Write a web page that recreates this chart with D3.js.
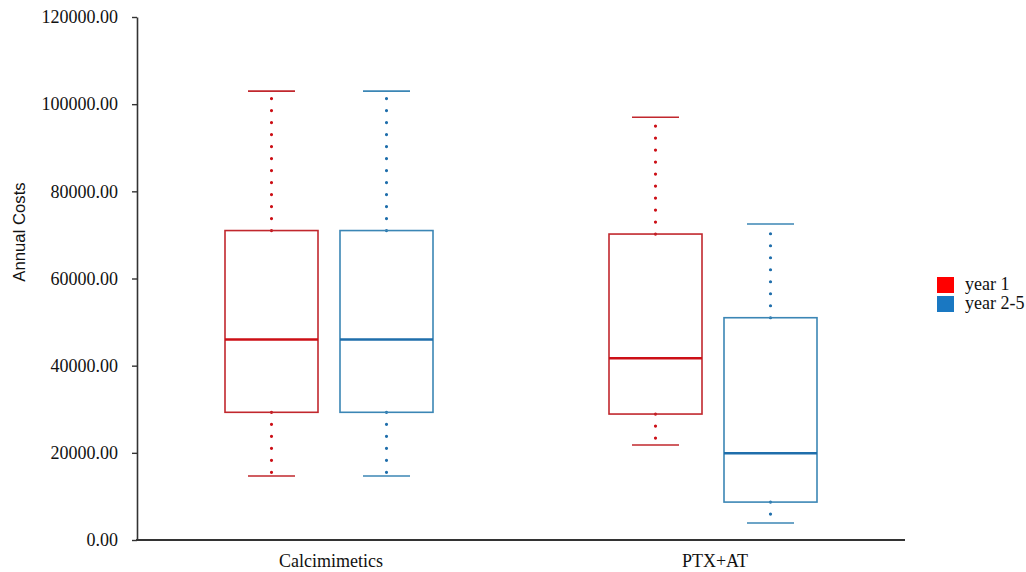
<!DOCTYPE html>
<html>
<head>
<meta charset="utf-8">
<script src="https://d3js.org/d3.v7.min.js"></script>
<style>
  body { margin: 0; background: #fff; }
  svg text { fill: #111; }
</style>
</head>
<body>
<div id="chart"></div>
<script>
// data
var categories = ["Calcimimetics", "PTX+AT"];
var seriesNames = ["year 1", "year 2-5"];
// [whiskerLow, q1, median, q3, whiskerHigh] per category
var year1Stats = [
  [14700, 29300, 46000, 71000, 103000],
  [21800, 28900, 41700, 70200, 97000]
];
var year25Stats = [
  [14700, 29300, 46000, 71000, 103000],
  [3900, 8700, 19900, 51000, 72500]
];
var yTicks = [0, 20000, 40000, 60000, 80000, 100000, 120000];

var boxColors = ["#c1272d", "#3b86b5"];
var medianColors = ["#cc0f16", "#1f6eab"];
var legendColors = ["#ff0000", "#1a78c2"];

var width = 1026, height = 572;
var serif = "'Liberation Serif', 'DejaVu Serif', serif";
var svg = d3.select("#chart").append("svg")
  .attr("width", width)
  .attr("height", height);

var y = d3.scaleLinear().domain([0, 120000]).range([540, 17]);
var x = d3.scaleBand().domain(categories).range([137, 905]).padding(0);
var xs = d3.scaleBand().domain(seriesNames).range([77, 307]).padding(0);
var boxW = 93;

// y axis
var yAxis = svg.append("g")
  .attr("transform", "translate(137,0)")
  .call(d3.axisLeft(y).tickValues(yTicks).tickSize(5).tickSizeOuter(0)
    .tickFormat(function (d) { return d3.format(".2f")(d); }));
yAxis.select(".domain").attr("stroke", "#333").attr("stroke-width", 1.6);
yAxis.selectAll(".tick line").attr("stroke", "#333").attr("stroke-width", 1.4);
yAxis.selectAll(".tick text")
  .attr("x", -19)
  .style("font-family", serif)
  .style("font-size", "18px")
  .attr("fill", "#111");

// x axis line + labels
svg.append("line")
  .attr("x1", 136).attr("x2", 905)
  .attr("y1", y(0)).attr("y2", y(0))
  .attr("stroke", "#333").attr("stroke-width", 2.2);

svg.selectAll(".xlab")
  .data(categories)
  .enter().append("text")
  .attr("class", "xlab")
  .attr("x", function (d) { return x(d) + x.bandwidth() / 2 + 2; })
  .attr("y", 567)
  .attr("text-anchor", "middle")
  .style("font-family", serif)
  .style("font-size", "18px")
  .text(function (d) { return d; });

// axis title
svg.append("text")
  .attr("transform", "translate(25,232) rotate(-90)")
  .attr("text-anchor", "middle")
  .style("font-family", "'Liberation Sans', Arial, sans-serif")
  .style("font-size", "16.7px")
  .text("Annual Costs");

// boxes
var allStats = [year1Stats, year25Stats];
var rows = [];
seriesNames.forEach(function (s, si) {
  categories.forEach(function (c, ci) {
    var st = allStats[si][ci];
    rows.push({ cat: c, series: s, si: si, lo: st[0], q1: st[1], med: st[2], q3: st[3], hi: st[4] });
  });
});

var g = svg.selectAll(".box")
  .data(rows)
  .enter().append("g")
  .attr("class", "box")
  .attr("transform", function (d) {
    return "translate(" + (x(d.cat) + xs(d.series) + xs.bandwidth() / 2) + ",0)";
  });

// dotted whiskers
["hi", "lo"].forEach(function (k) {
  g.append("line")
    .attr("x1", 0).attr("x2", 0)
    .attr("y1", function (d) { return y(k == "hi" ? d.q3 : d.q1); })
    .attr("y2", function (d) { return y(d[k]); })
    .attr("stroke", function (d) { return medianColors[d.si]; })
    .attr("stroke-width", 3.2)
    .attr("stroke-linecap", "round")
    .attr("stroke-dasharray", "0 12");
});

// caps
["hi", "lo"].forEach(function (k) {
  g.append("line")
    .attr("x1", -23.5).attr("x2", 23.5)
    .attr("y1", function (d) { return y(d[k]); })
    .attr("y2", function (d) { return y(d[k]); })
    .attr("stroke", function (d) { return boxColors[d.si]; })
    .attr("stroke-width", 1.6);
});

g.append("rect")
  .attr("x", -boxW / 2)
  .attr("width", boxW)
  .attr("y", function (d) { return y(d.q3); })
  .attr("height", function (d) { return y(d.q1) - y(d.q3); })
  .attr("fill", "none")
  .attr("stroke", function (d) { return boxColors[d.si]; })
  .attr("stroke-width", 1.6);

g.append("line")
  .attr("x1", -boxW / 2).attr("x2", boxW / 2)
  .attr("y1", function (d) { return y(d.med); })
  .attr("y2", function (d) { return y(d.med); })
  .attr("stroke", function (d) { return medianColors[d.si]; })
  .attr("stroke-width", 2.6);

// legend
var leg = svg.append("g").attr("transform", "translate(937,277)");
seriesNames.forEach(function (s, i) {
  leg.append("rect")
    .attr("x", 0).attr("y", i * 19)
    .attr("width", 17).attr("height", 16)
    .attr("fill", legendColors[i]);
  leg.append("text")
    .attr("x", 28).attr("y", i * 19 + 13)
    .style("font-family", serif)
    .style("font-size", "18px")
    .text(s);
});
</script>
</body>
</html>
